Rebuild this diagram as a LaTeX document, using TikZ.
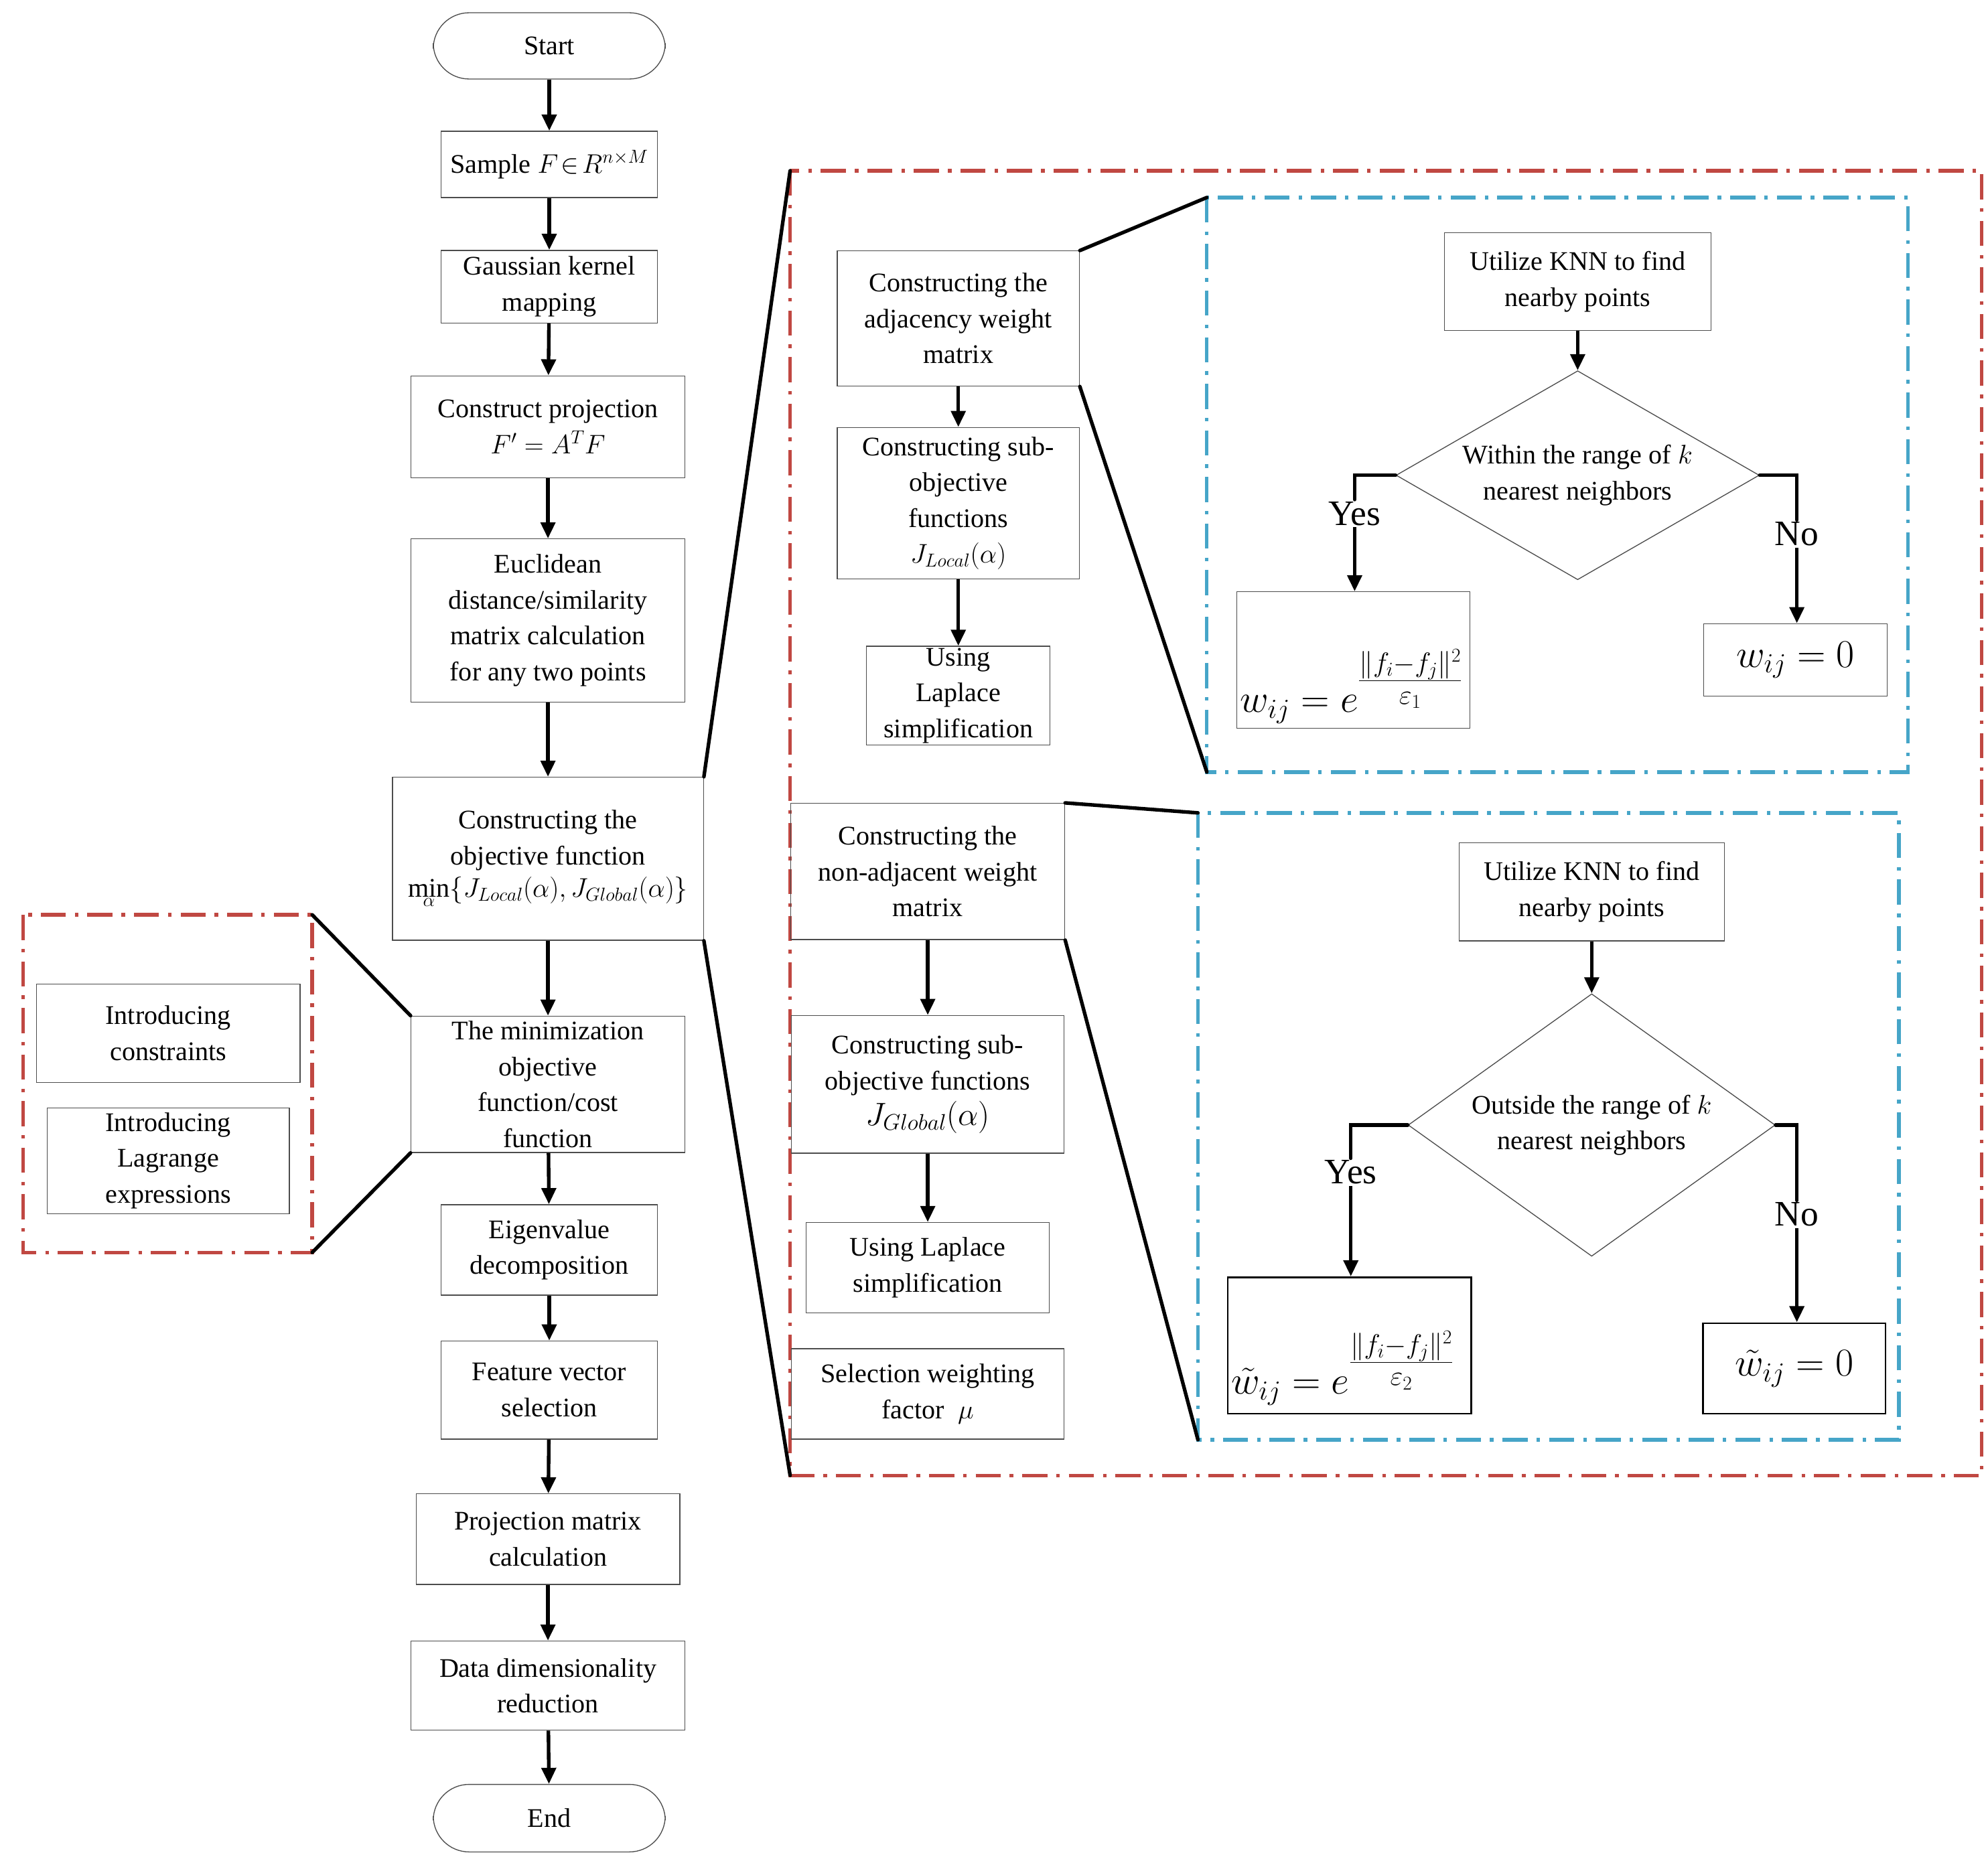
\RequirePackage{fix-cm}
\documentclass[tikz,border=0pt]{standalone}
\usepackage{fontspec}
\setmainfont{Liberation Serif}
\usetikzlibrary{arrows.meta,shapes.geometric}
\definecolor{dred}{RGB}{192,72,66}
\definecolor{dblue}{RGB}{70,165,200}
\begin{document}
\begin{tikzpicture}[x=0.05cm,y=-0.05cm,
  every node/.style={font=\fontsize{30}{40}\selectfont, align=center, inner sep=2pt},
  box/.style={draw=black!70, line width=1pt},
  sz/.style 2 args={minimum width=#1*0.05cm, minimum height=#2*0.05cm},
  arr/.style={line width=4pt, -{Triangle[length=18pt,width=16pt]}},
  lnk/.style={line width=4pt, line cap=round},
  reddash/.style={draw=dred, line width=4pt, dash pattern=on 28pt off 10pt on 4pt off 10pt},
  bluedash/.style={draw=dblue, line width=4pt, dash pattern=on 28pt off 10pt on 4pt off 10pt},
  dia/.style={diamond, draw=black!70, line width=1pt, aspect=1.7, inner sep=0pt},
  lab/.style={font=\fontsize{40}{44}\selectfont},
  big/.style={font=\fontsize{44}{48}\selectfont}]
\useasboundingbox (0,0) rectangle (1560,1459);
% main column
\node[box, rounded corners=40pt, sz={182}{52}] (start) at (431,36) {Start};
\node[box, sz={170}{52}] (sample) at (431,129) {Sample $F\!\in\! R^{n\times M}$};
\node[box, sz={170}{57}] (gauss) at (431,225) {Gaussian kernel\\mapping};
\node[box, sz={215}{80}] (proj) at (430,335) {Construct projection\\$F'=A^{T}F$};
\node[box, sz={215}{128}] (eucl) at (430,487) {Euclidean\\distance/similarity\\matrix calculation\\for any two points};
\node[box, sz={244}{128}] (obj) at (430,674) {Constructing the\\objective function\\[-4pt]$\min\limits_{\alpha}\{J_{Local}(\alpha),J_{Global}(\alpha)\}$};
\node[box, sz={215}{107}] (minim) at (430,851) {The minimization\\objective\\function/cost\\function};
\node[box, sz={170}{71}] (eig) at (431,981) {Eigenvalue\\decomposition};
\node[box, sz={170}{77}] (feat) at (431,1091) {Feature vector\\selection};
\node[box, sz={207}{71}] (pm) at (430,1208) {Projection matrix\\calculation};
\node[box, sz={215}{70}] (dd) at (430,1323) {Data dimensionality\\reduction};
\node[box, rounded corners=40pt, sz={182}{53}] (end) at (431,1427) {End};
\foreach \a/\b in {start/sample,sample/gauss,gauss/proj,proj/eucl,eucl/obj,obj/minim,minim/eig,eig/feat,feat/pm,pm/dd,dd/end}
  \draw[arr] (\a) -- (\b);
% left box
\draw[reddash] (18,718) rectangle (245,983);
\node[box, sz={207}{77}] (ic) at (132,811) {Introducing\\constraints};
\node[box, sz={190}{83}] (il) at (132,911) {Introducing\\Lagrange\\expressions};
\coordinate (lt) at (245,718); \coordinate (lb) at (245,983);
\draw[lnk] (lt) -- (minim.north west);
\draw[lnk] (lb) -- (minim.south west);
% big red box
\draw[reddash] (620,134) rectangle (1555,1158);
\coordinate (rt) at (620,134); \coordinate (rb) at (620,1158);
\draw[lnk] (obj.north east) -- (rt);
\draw[lnk] (obj.south east) -- (rb);
\node[box, sz={190}{106}] (adj) at (752,250) {Constructing the\\adjacency weight\\matrix};
\node[box, sz={190}{119}] (sub1) at (752,395) {Constructing sub-\\objective\\functions\\$J_{Local}(\alpha)$};
\node[box, sz={144}{77}] (lap1) at (752,546) {Using\\Laplace\\simplification};
\draw[arr] (adj) -- (sub1);
\draw[arr] (sub1) -- (lap1);
\node[box, sz={215}{107}] (nadj) at (728,684) {Constructing the\\non-adjacent weight\\matrix};
\node[box, sz={214}{108}] (sub2) at (728,851) {Constructing sub-\\objective functions\\{\fontsize{36}{40}\selectfont$J_{Global}(\alpha)$}};
\node[box, sz={191}{71}] (lap2) at (728,995) {Using Laplace\\simplification};
\node[box, sz={214}{71}] (sel) at (728,1094) {Selection weighting\\factor \ $\mu$};
\draw[arr] (nadj) -- (sub2);
\draw[arr] (sub2) -- (lap2);
% blue box 1
\draw[bluedash] (947,155) rectangle (1497,606);
\coordinate (b1t) at (947,155); \coordinate (b1b) at (947,606);
\draw[lnk] (adj.north east) -- (b1t);
\draw[lnk] (adj.south east) -- (b1b);
\node[box, sz={209}{77}] (knn1) at (1238,221) {Utilize KNN to find\\nearby points};
\node[dia, minimum width=285*0.05cm, minimum height=164*0.05cm] (d1) at (1238,373) {Within the range of $k$\\nearest neighbors};
\node[box, sz={183}{107}] (w1) at (1062,518) {};
\node[big, anchor=south west, inner sep=0pt] (f1) at (973,568) {$w_{ij}=e^{\textstyle\frac{\|f_i-f_j\|^2}{\varepsilon_1}}$};
\node[box, big, sz={144}{57}] (z1) at (1409,518) {$w_{ij}=0$};
\node[lab] (y1) at (1063,403) {Yes};
\node[lab] (n1) at (1410,419) {No};
\draw[lnk] (d1.west) -| (y1.north);
\draw[arr] (y1.south) -- (w1.north -| y1.south);
\draw[lnk] (d1.east) -| (n1.north);
\draw[arr] (n1.south) -- (z1.north -| n1.south);
\draw[arr] (knn1) -- (d1.north);
% blue box 2
\draw[bluedash] (940,638) rectangle (1490,1130);
\coordinate (b2t) at (940,638); \coordinate (b2b) at (940,1130);
\draw[lnk] (nadj.north east) -- (b2t);
\draw[lnk] (nadj.south east) -- (b2b);
\node[box, sz={208}{77}] (knn2) at (1249,700) {Utilize KNN to find\\nearby points};
\node[dia, minimum width=288*0.05cm, minimum height=206*0.05cm] (d2) at (1249,883) {Outside the range of $k$\\nearest neighbors};
\node[draw, line width=2pt, sz={191}{107}] (w2) at (1059,1056) {};
\node[big, anchor=south west, inner sep=0pt] (f2) at (966,1103) {$\tilde w_{ij}=e^{\textstyle\frac{\|f_i-f_j\|^2}{\varepsilon_2}}$};
\node[draw, big, line width=2pt, sz={143}{71}] (z2) at (1408,1074) {$\tilde w_{ij}=0$};
\node[lab] (y2) at (1060,920) {Yes};
\node[lab] (n2) at (1410,953) {No};
\draw[lnk] (d2.west) -| (y2.north);
\draw[arr] (y2.south) -- (w2.north -| y2.south);
\draw[lnk] (d2.east) -| (n2.north);
\draw[arr] (n2.south) -- (z2.north -| n2.south);
\draw[arr] (knn2) -- (d2.north);
\end{tikzpicture}
\end{document}
